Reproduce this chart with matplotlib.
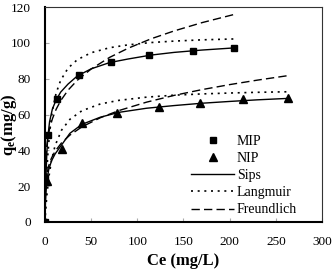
import matplotlib
matplotlib.use('Agg')
import matplotlib.pyplot as plt

plt.rcParams['font.family'] = ['Liberation Serif', 'DejaVu Serif']
plt.rcParams['mathtext.fontset'] = 'custom'
plt.rcParams['mathtext.rm'] = 'Liberation Serif'
plt.rcParams['mathtext.bf'] = 'Liberation Serif:bold'

# experimental points
ce_mip = [0, 0.5, 3, 13, 37, 72, 113, 160, 205]
qe_mip = [0, 24.5, 48.5, 68.5, 82, 89.5, 93.5, 95.5, 97]
ce_nip = [0, 2, 18, 40, 78, 123, 168, 214, 263]
qe_nip = [0, 23, 41, 55, 61, 64, 66.5, 68.5, 69.5]

# fitted isotherm curves
ce_fit_mip = [0, 0.5, 1, 2, 3, 5, 8, 12, 17, 25, 35, 50, 70, 90, 115, 140, 170, 205]
sips_mip = [0, 14, 24, 38, 47, 56, 63, 68, 72.5, 77, 81.5, 85.5, 89, 91, 93.2, 94.7, 96, 97.2]
lang_mip = [0, 8.7, 16.0, 27.8, 36.8, 49.7, 62.0, 71.8, 79.1, 85.9, 90.6, 94.5, 97.3, 98.9,
            100.2, 101.0, 101.7, 102.2]
freu_mip = [0, 31.6, 36.7, 42.6, 46.5, 52.0, 57.5, 62.8, 67.7, 73.6, 79.1, 85.4, 91.9, 97.0,
            102.3, 106.7, 111.3, 115.9]

ce_fit_nip = [0, 0.5, 1, 2, 4, 7, 11, 18, 27, 40, 60, 80, 110, 140, 170, 200, 230, 263]
sips_nip = [0, 10, 16, 23, 29, 34, 38, 43, 49.5, 54.5, 58.5, 61.2, 63.5, 65, 66.3, 67.3, 68.2, 69.0]
lang_nip = [0, 4.2, 8.0, 14.5, 24.3, 34.2, 42.7, 51.3, 57.3, 62.1, 65.9, 67.9, 69.7, 70.8,
            71.5, 72.0, 72.4, 72.7]
freu_nip = [0, 19.5, 22.8, 26.7, 31.3, 35.6, 39.5, 44.2, 48.5, 53.1, 58.2, 62.2, 66.9, 70.7,
            73.9, 76.7, 79.2, 81.7]

fig = plt.figure(figsize=(3.33, 2.72), dpi=100)
ax = fig.add_axes([0.135, 0.184, 0.832, 0.79])

lw = 1.0
ax.plot(ce_mip, qe_mip, 's', color='black', ms=5, label='MIP', zorder=5)
ax.plot(ce_nip, qe_nip, '^', color='black', ms=5.5, label='NIP', zorder=5)
ax.plot(ce_fit_mip, sips_mip, '-', color='black', lw=lw, label='Sips')
ax.plot(ce_fit_mip, lang_mip, ':', color='black', lw=1.2, dashes=(1.2, 2.8), label='Langmuir')
ax.plot(ce_fit_mip, freu_mip, '--', color='black', lw=lw, dashes=(6, 3), label='Freundlich')
ax.plot(ce_fit_nip, sips_nip, '-', color='black', lw=lw)
ax.plot(ce_fit_nip, lang_nip, ':', color='black', lw=1.2, dashes=(1.2, 2.8))
ax.plot(ce_fit_nip, freu_nip, '--', color='black', lw=lw, dashes=(6, 3))

ax.set_xlim(0, 300)
ax.set_ylim(0, 120)
ax.set_xticks(range(0, 301, 50))
ax.set_yticks(range(0, 121, 20))
ax.tick_params(direction='in', length=3, color='#aaaaaa', labelsize=9.5)
ax.tick_params(axis='x', pad=10)
ax.tick_params(axis='y', pad=10)

ax.spines['left'].set_linewidth(1.5)
ax.spines['bottom'].set_linewidth(1.5)
ax.spines['top'].set_linewidth(0.8)
ax.spines['right'].set_linewidth(0.8)
ax.spines['top'].set_color('#333333')
ax.spines['right'].set_color('#333333')

ax.set_xlabel('Ce (mg/L)', fontsize=12, fontweight='bold')
ax.xaxis.set_label_coords(0.5, -0.145)
ax.set_ylabel(r'$\mathbf{q_e}$' + '(mg/g)', fontsize=12, fontweight='bold')
ax.yaxis.set_label_coords(-0.095, 0.45)

ax.legend(loc='lower right', bbox_to_anchor=(0.93, 0.0), frameon=False, fontsize=10,
          handlelength=3.1, handletextpad=0.2, labelspacing=0.3, borderaxespad=0.0)

fig.savefig('out.png', dpi=100)
